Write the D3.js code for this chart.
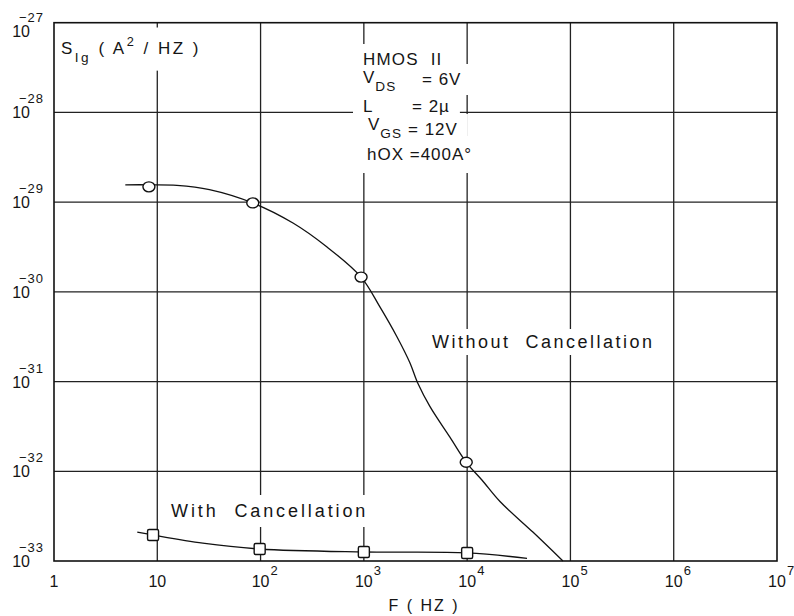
<!DOCTYPE html>
<html>
<head>
<meta charset="utf-8">
<script src="https://cdn.jsdelivr.net/npm/d3@7"></script>
<style>
  body { margin: 0; background: #fff; }
  text { font-family: "Liberation Sans", Arial, sans-serif; fill: #151515; white-space: pre; }
</style>
</head>
<body>
<div class="chart"></div>
<script>
// frequency decades on x, noise density decades on y
const xTicks = [1, 1e1, 1e2, 1e3, 1e4, 1e5, 1e6, 1e7];
const xTickBase = ["1", "10", "10", "10", "10", "10", "10", "10"];
const xTickSup = ["", "", "2", "3", "4", "5", "6", "7"];
const yTicks = [1e-33, 1e-32, 1e-31, 1e-30, 1e-29, 1e-28, 1e-27];
const yTickSup = ["\u221233", "\u221232", "\u221231", "\u221230", "\u221229", "\u221228", "\u221227"];

// Without cancellation: measured points + traced curve
const withoutMarkF = [8.3, 84, 940, 9800];
const withoutMarkS = [1.48e-29, 9.8e-30, 1.46e-30, 1.26e-32];
const withoutCurveF = [4.9, 8.3, 15.5, 32, 84, 206, 440, 940, 1430, 2090, 2790, 3340, 4370, 6810, 9800, 13900, 20800, 43300, 84600];
const withoutCurveS = [1.56e-29, 1.56e-29, 1.54e-29, 1.38e-29, 9.8e-30, 5.85e-30, 3.16e-30, 1.46e-30, 6.8e-31, 3.16e-31, 1.62e-31, 9.5e-32, 5.25e-32, 2.4e-32, 1.26e-32, 8.0e-33, 4.6e-33, 2.1e-33, 1.0e-33];

// With cancellation
const withMarkF = [9.1, 98, 1000, 10000];
const withMarkS = [1.95e-33, 1.36e-33, 1.26e-33, 1.23e-33];
const withCurveF = [6.4, 9.1, 27.6, 98, 1000, 10000, 38000];
const withCurveS = [2.1e-33, 1.95e-33, 1.58e-33, 1.36e-33, 1.26e-33, 1.23e-33, 1.07e-33];

const width = 794, height = 616;
const x = d3.scaleLog().domain([1, 1e7]).range([54, 777]);
const y = d3.scaleLog().domain([1e-33, 1e-27]).range([561, 22.7]);

const svg = d3.select(".chart").append("svg")
    .attr("width", width)
    .attr("height", height);

const gridG = svg.append("g");
const blockG = svg.append("g");
const lineG = svg.append("g");
const textG = svg.append("g");
const frameG = svg.append("g");

// grid
gridG.selectAll(".vg")
    .data(xTicks.slice(1, -1))
    .enter().append("line")
    .attr("x1", d => x(d)).attr("x2", d => x(d))
    .attr("y1", y(1e-27)).attr("y2", y(1e-33))
    .attr("stroke", "#222").attr("stroke-width", 1.3);
gridG.selectAll(".hg")
    .data(yTicks.slice(1, -1))
    .enter().append("line")
    .attr("x1", x(1)).attr("x2", x(1e7))
    .attr("y1", d => y(d)).attr("y2", d => y(d))
    .attr("stroke", "#222").attr("stroke-width", 1.3);

// curves
const line = d3.line()
    .x(d => x(d[0]))
    .y(d => y(d[1]))
    .curve(d3.curveCatmullRom.alpha(0.5));

lineG.append("path")
    .datum(d3.zip(withoutCurveF, withoutCurveS))
    .attr("d", line)
    .attr("fill", "none").attr("stroke", "#111").attr("stroke-width", 1.3);

lineG.append("path")
    .datum(d3.zip(withCurveF, withCurveS))
    .attr("d", line)
    .attr("fill", "none").attr("stroke", "#111").attr("stroke-width", 1.3);

lineG.selectAll(".circ")
    .data(d3.zip(withoutMarkF, withoutMarkS))
    .enter().append("ellipse")
    .attr("cx", d => x(d[0])).attr("cy", d => y(d[1]))
    .attr("rx", 6).attr("ry", 5)
    .attr("fill", "#fff").attr("stroke", "#111").attr("stroke-width", 1.4);

lineG.selectAll(".sq")
    .data(d3.zip(withMarkF, withMarkS))
    .enter().append("rect")
    .attr("x", d => x(d[0]) - 5.5).attr("y", d => y(d[1]) - 5.5)
    .attr("width", 11).attr("height", 11).attr("rx", 1.5)
    .attr("fill", "#fff").attr("stroke", "#111").attr("stroke-width", 1.4);

// text helper: draws text and a white block behind it to break grid lines
function label(xp, yp, parts, size, spacing, padX, padY) {
    const t = textG.append("text")
        .attr("x", xp).attr("y", yp)
        .attr("font-size", size)
        .attr("letter-spacing", spacing);
    parts.forEach(p => {
        const s = t.append("tspan").text(p.t);
        if (p.sub) s.attr("font-size", size * 0.8).attr("dy", size * 0.45);
        if (p.sup) s.attr("font-size", size * 0.75).attr("dy", -size * 0.5);
        if (p.back) s.attr("dy", p.back);
    });
    const b = t.node().getBBox();
    blockG.append("rect")
        .attr("x", b.x - padX).attr("y", b.y - padY)
        .attr("width", b.width + 2 * padX).attr("height", b.height + 2 * padY)
        .attr("fill", "#fff");
    return t;
}

// y label
label(61, 54, [
    {t: "S"}, {t: "Ig", sub: true}, {t: " ( A", back: -17 * 0.45},
    {t: "2", sup: true}, {t: " / HZ )", back: 17 * 0.5}
], 17, 2.5, 8, 6);

// device annotation
label(363, 65, [{t: "HMOS  II"}], 17, 1.2, 10, 6);
label(363, 83, [{t: "V"}, {t: "DS", sub: true}], 17, 1, 10, 6);
label(422, 85, [{t: "= 6V"}], 17, 1, 10, 6);
label(363, 112, [{t: "L"}], 17, 1, 10, 6);
label(412, 112, [{t: "= 2\u00b5"}], 17, 1, 10, 6);
label(368, 130, [{t: "V"}, {t: "GS", sub: true}], 17, 1, 10, 6);
label(408, 135, [{t: "= 12V"}], 17, 1, 10, 6);
label(367, 160, [{t: "hOX =400A\u00b0"}], 17, 1, 8, 9);

label(432, 348, [{t: "Without  Cancellation"}], 18, 2.5, 8, 3);
label(171, 517, [{t: "With  Cancellation"}], 18, 2.9, 8, 6);

// x tick labels
xTicks.forEach((v, i) => {
    const xp = x(v);
    textG.append("text")
        .attr("x", xp).attr("y", 587)
        .attr("font-size", 16).attr("text-anchor", "middle")
        .text(xTickBase[i]);
    if (xTickSup[i]) {
        textG.append("text")
            .attr("x", xp + 10).attr("y", 575)
            .attr("font-size", 13)
            .text(xTickSup[i]);
    }
});

// y tick labels
yTicks.forEach((v, i) => {
    const yp = Math.max(y(v), 31);
    textG.append("text")
        .attr("x", 30).attr("y", yp + 6)
        .attr("font-size", 16).attr("text-anchor", "end")
        .text("10");
    textG.append("text")
        .attr("x", 44).attr("y", yp - 9)
        .attr("font-size", 13).attr("text-anchor", "end")
        .attr("letter-spacing", 1)
        .text(yTickSup[i]);
});

// axis title
textG.append("text")
    .attr("x", 424).attr("y", 611)
    .attr("font-size", 16).attr("text-anchor", "middle")
    .attr("letter-spacing", 2)
    .text("F ( HZ )");

// frame
frameG.append("rect")
    .attr("x", x(1)).attr("y", y(1e-27))
    .attr("width", x(1e7) - x(1)).attr("height", y(1e-33) - y(1e-27))
    .attr("fill", "none").attr("stroke", "#111").attr("stroke-width", 1.6);
</script>
</body>
</html>
